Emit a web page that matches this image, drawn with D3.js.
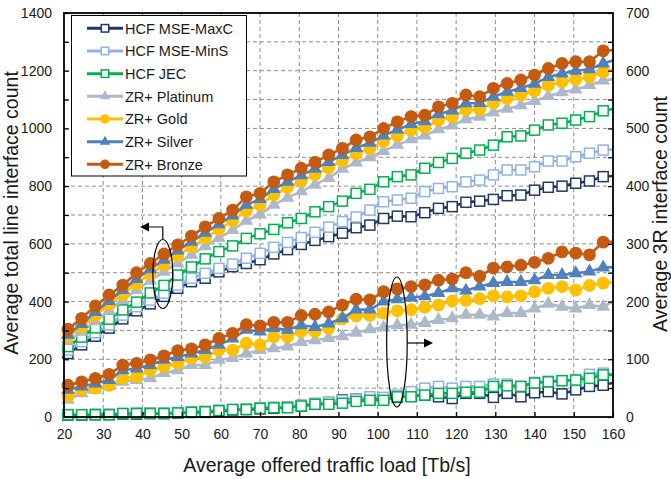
<!DOCTYPE html>
<html>
<head>
<meta charset="utf-8">
<script src="https://cdn.jsdelivr.net/npm/d3@7"></script>
<style>
  html, body { margin: 0; padding: 0; background: #fff; }
  svg { display: block; font-family: "Liberation Sans", Arial, sans-serif; }
</style>
</head>
<body>
<svg id="chart" width="671" height="479"></svg>
<script>
// ---- data -------------------------------------------------------------
// offered traffic load [Tb/s] of each simulation step
const loads = [21, 24.5, 28, 31.5, 35, 38.5, 42, 45.5, 49, 52.5, 56, 59.5, 63, 66.5, 70, 73.5, 77, 80.5, 84, 87.5,
               91, 94.5, 98, 101.5, 105, 108.5, 112, 115.5, 119, 122.5, 126, 129.5, 133, 136.5, 140, 143.5, 147, 150.5, 154, 157.5, 161];

// average total line interface count (left axis)
const totalMaxC = [220, 250, 280, 308, 340, 368, 392, 418, 446, 469, 481, 503, 521, 532, 545, 565, 580, 598, 612, 625,
                   637, 656, 665, 688, 696, 694, 708, 723, 729, 744, 748, 754, 767, 769, 786, 796, 800, 810, 818, 833, 836];
const totalMinS = [232, 261, 292, 319, 353, 382, 405, 429, 457, 481, 498, 515, 530, 550, 567, 588, 605, 622, 640, 658,
                   677, 693, 717, 746, 752, 758, 781, 792, 798, 815, 821, 839, 856, 856, 867, 887, 887, 902, 914, 925, 928];
const totalJEC = [244, 277, 309, 339, 371, 398, 430, 456, 492, 520, 548, 573, 593, 619, 635, 650, 673, 688, 711, 729,
                  748, 775, 789, 815, 833, 839, 862, 882, 896, 914, 925, 942, 971, 974, 994, 1012, 1018, 1029, 1041, 1061, 1070];
const totalPlatinum = [262, 295, 332, 368, 405, 440, 472, 503, 533, 562, 592, 620, 648, 680, 702, 735, 760, 782, 805, 828,
                       860, 882, 900, 922, 943, 962, 975, 997, 1010, 1032, 1040, 1055, 1068, 1080, 1095, 1112, 1125, 1135, 1150, 1166, 1173];
const totalGold = [278, 312, 352, 390, 425, 462, 496, 528, 560, 590, 620, 650, 680, 714, 735, 770, 795, 818, 840, 864,
                   888, 912, 930, 955, 975, 994, 1004, 1028, 1040, 1064, 1066, 1088, 1104, 1116, 1130, 1150, 1162, 1170, 1178, 1196, 1208];
const totalSilver = [285, 322, 364, 402, 440, 478, 512, 545, 577, 607, 638, 668, 698, 735, 755, 790, 815, 838, 860, 884,
                     908, 932, 950, 975, 996, 1015, 1025, 1050, 1062, 1087, 1088, 1110, 1127, 1140, 1155, 1178, 1190, 1200, 1205, 1225, 1240];
const totalBronze = [304, 342, 385, 423, 457, 500, 532, 565, 596, 627, 659, 688, 717, 763, 775, 815, 839, 862, 882, 908,
                     931, 960, 971, 1000, 1023, 1041, 1046, 1075, 1087, 1116, 1110, 1139, 1156, 1168, 1185, 1208, 1225, 1231, 1231, 1269, 1272];

// average 3R interface count (right axis)
const r3MaxC = [3, 3, 4, 4, 5, 5, 6, 6, 7, 8, 8, 10, 12, 13, 14, 15, 17, 19, 22, 25,
                30, 31, 30, 32, 34, 36, 38, 35, 32, 41, 41, 34, 41, 35, 42, 44, 40, 47, 53, 55, 61];
const r3MinS = [4, 4, 5, 5, 6, 7, 7, 7, 8, 9, 10, 12, 13, 14, 16, 17, 18, 21, 24, 26,
                29, 31, 35, 34, 38, 44, 50, 53, 50, 53, 53, 57, 57, 53, 60, 62, 63, 64, 74, 76, 72];
const r3JEC = [4, 4, 4, 4, 6, 6, 6, 6, 7, 8, 9, 11, 13, 13, 15, 16, 16, 19, 22, 22,
               24, 27, 29, 29, 35, 35, 38, 41, 41, 43, 43, 53, 54, 53, 59, 61, 63, 64, 67, 73, 73];
const r3Platinum = [30, 41, 47, 53, 61, 64, 67, 76, 81, 90, 90, 99, 102, 110, 116, 119, 122, 130, 133, 137,
                    140, 146, 152, 155, 159, 160, 163, 168, 171, 177, 177, 174, 180, 180, 188, 196, 191, 188, 194, 191, 204];
const r3Gold = [36, 47, 50, 55, 67, 70, 81, 87, 93, 102, 104, 116, 116, 128, 125, 139, 139, 148, 148, 154,
                170, 175, 176, 180, 184, 186, 190, 194, 201, 202, 205, 210, 208, 210, 217, 223, 226, 220, 228, 232, 234];
const r3Silver = [47, 53, 58, 64, 81, 84, 90, 99, 104, 110, 116, 125, 136, 151, 148, 154, 151, 159, 156, 162,
                  171, 186, 186, 200, 204, 207, 209, 215, 223, 219, 226, 232, 234, 234, 237, 246, 246, 249, 252, 259, 260];
const r3Bronze = [55, 61, 67, 74, 90, 93, 99, 106, 115, 118, 125, 136, 145, 160, 158, 164, 164, 176, 178, 182,
                  194, 204, 203, 217, 222, 226, 229, 237, 239, 250, 244, 258, 260, 263, 268, 275, 286, 284, 281, 303, 304];

// axis ticks
const xTicks = [20, 30, 40, 50, 60, 70, 80, 90, 100, 110, 120, 130, 140, 150, 160];
const yLeftTicks = [0, 200, 400, 600, 800, 1000, 1200, 1400];
const yRightTicks = [0, 100, 200, 300, 400, 500, 600, 700];
const yLeftMinor = [0, 100, 200, 300, 400, 500, 600, 700, 800, 900, 1000, 1100, 1200, 1300, 1400];

const seriesNames = ["HCF MSE-MaxC", "HCF MSE-MinS", "HCF JEC", "ZR+ Platinum", "ZR+ Gold", "ZR+ Silver", "ZR+ Bronze"];
const totals = [totalMaxC, totalMinS, totalJEC, totalPlatinum, totalGold, totalSilver, totalBronze];
const threeR = [r3MaxC, r3MinS, r3JEC, r3Platinum, r3Gold, r3Silver, r3Bronze];

// ---- styles -----------------------------------------------------------
const seriesColors = ["#203864", "#8fb4e3", "#00b050", "#adb9ca", "#ffc000", "#4f81bd", "#c55a11"];
const seriesMarkers = ["square", "square", "square", "triangle", "circle", "triangle", "circle"];

// ---- layout -----------------------------------------------------------
const W = 671, H = 479;
const plot = { left: 64, right: 613, top: 13, bottom: 417 };

const x = d3.scaleLinear().domain([20, 160]).range([plot.left, plot.right]);
const yL = d3.scaleLinear().domain([0, 1400]).range([plot.bottom, plot.top]);
const yR = d3.scaleLinear().domain([0, 700]).range([plot.bottom, plot.top]);

const svg = d3.select("#chart");
svg.append("rect").attr("width", W).attr("height", H).attr("fill", "#fff");

svg.append("defs").append("clipPath").attr("id", "plotClip")
  .append("rect")
  .attr("x", plot.left).attr("y", plot.top)
  .attr("width", plot.right - plot.left).attr("height", plot.bottom - plot.top);

// dashed grid
const grid = svg.append("g").attr("stroke", "#8c8c8c").attr("stroke-width", 1).attr("stroke-dasharray", "4,3");
grid.selectAll("line.gv").data(xTicks.slice(1, -1)).join("line")
  .attr("x1", d => x(d)).attr("x2", d => x(d))
  .attr("y1", plot.top).attr("y2", plot.bottom);
grid.selectAll("line.gh").data(yLeftMinor.slice(1, -1)).join("line")
  .attr("x1", plot.left).attr("x2", plot.right)
  .attr("y1", d => yL(d)).attr("y2", d => yL(d));

// ---- series -----------------------------------------------------------
function drawMarker(g, type, color, cx, cy, s) {
  if (type === "square") {
    g.append("rect").attr("x", cx - 5 * s).attr("y", cy - 5 * s)
      .attr("width", 10 * s).attr("height", 10 * s)
      .attr("fill", "#fff").attr("stroke", color).attr("stroke-width", 1.5);
  } else if (type === "circle") {
    g.append("circle").attr("cx", cx).attr("cy", cy).attr("r", 6.4 * s).attr("fill", color);
  } else {
    g.append("path").attr("d", d3.symbol().type(d3.symbolTriangle).size(82 * s * s)())
      .attr("transform", `translate(${cx},${cy})`).attr("fill", color);
  }
}

const seriesLayer = svg.append("g");
seriesNames.forEach((name, si) => {
  const color = seriesColors[si];
  [[totals[si], yL], [threeR[si], yR]].forEach(([vals, scale]) => {
    const g = seriesLayer.append("g");
    const line = d3.line().x((d, i) => x(loads[i])).y(d => scale(d));
    g.append("path").attr("d", line(vals))
      .attr("fill", "none").attr("stroke", color).attr("stroke-width", 2.6)
      .attr("stroke-linejoin", "round")
      .attr("clip-path", "url(#plotClip)");
    vals.forEach((v, i) => {
      if (loads[i] <= 160) drawMarker(g, seriesMarkers[si], color, x(loads[i]), scale(v), 1);
    });
  });
});

// ---- frame and axes ---------------------------------------------------
svg.append("rect")
  .attr("x", plot.left).attr("y", plot.top)
  .attr("width", plot.right - plot.left).attr("height", plot.bottom - plot.top)
  .attr("fill", "none").attr("stroke", "#000").attr("stroke-width", 1.8);

function styleAxis(g) {
  g.select(".domain").remove();
  g.selectAll("text").attr("font-size", 14).attr("fill", "#1a1a1a")
    .attr("font-family", '"Liberation Sans", Arial, sans-serif');
  g.selectAll("line").attr("stroke", "#000").attr("stroke-width", 1.2);
}
const plain = d3.format("d");

svg.append("g").attr("transform", `translate(0,${plot.bottom})`)
  .call(d3.axisBottom(x).tickValues(xTicks).tickFormat(plain).tickSize(0).tickPadding(12)).call(styleAxis);
svg.append("g").attr("transform", `translate(0,${plot.bottom})`)
  .call(d3.axisTop(x).tickValues(xTicks).tickSize(5).tickFormat("")).call(styleAxis);

svg.append("g").attr("transform", `translate(${plot.left},0)`)
  .call(d3.axisLeft(yL).tickValues(yLeftTicks).tickFormat(plain).tickSize(0).tickPadding(12)).call(styleAxis);
svg.append("g").attr("transform", `translate(${plot.left},0)`)
  .call(d3.axisRight(yL).tickValues(yLeftMinor).tickSize(5).tickFormat("")).call(styleAxis);

svg.append("g").attr("transform", `translate(${plot.right},0)`)
  .call(d3.axisRight(yR).tickValues(yRightTicks).tickFormat(plain).tickSize(0).tickPadding(13)).call(styleAxis);
svg.append("g").attr("transform", `translate(${plot.right},0)`)
  .call(d3.axisLeft(yR).tickValues(yLeftMinor.map(v => v / 2)).tickSize(5).tickFormat("")).call(styleAxis);

// axis titles
const titleFont = 19.5;
svg.append("text").attr("x", 327).attr("y", 471.5).attr("text-anchor", "middle")
  .attr("font-size", titleFont).attr("fill", "#1a1a1a").text("Average offered traffic load [Tb/s]");
svg.append("text").attr("transform", "translate(17.5,213) rotate(-90)").attr("text-anchor", "middle")
  .attr("font-size", titleFont).attr("fill", "#1a1a1a").text("Average total line interface count");
svg.append("text").attr("transform", "translate(666.5,214) rotate(-90)").attr("text-anchor", "middle")
  .attr("font-size", titleFont).attr("fill", "#1a1a1a").text("Average 3R interface count");

// ---- annotations: ellipses with arrows toward the matching axis -------
const ann = svg.append("g").attr("fill", "none").attr("stroke", "#000").attr("stroke-width", 1.2);
ann.append("ellipse").attr("cx", x(45.2)).attr("cy", 274).attr("rx", 10).attr("ry", 34.5);
ann.append("polyline").attr("points", `${x(45.2)},239.5 ${x(45.2)},227 147,227`);
svg.append("path").attr("d", "M140,227 L149,222.5 L149,231.5 Z").attr("fill", "#000");

ann.append("ellipse").attr("cx", x(104.9)).attr("cy", 342).attr("rx", 10.3).attr("ry", 65);
ann.append("line").attr("x1", x(104.9) + 10.3).attr("x2", 424).attr("y1", 343).attr("y2", 343);
svg.append("path").attr("d", "M433,343 L424,338.5 L424,347.5 Z").attr("fill", "#000");

// ---- legend -----------------------------------------------------------
const legend = svg.append("g");
legend.append("rect").attr("x", 71.5).attr("y", 15.5).attr("width", 175).attr("height", 160.5)
  .attr("fill", "#fff").attr("stroke", "#000").attr("stroke-width", 1);
seriesNames.forEach((name, si) => {
  const cy = 28.3 + si * 22.67;
  const row = legend.append("g");
  row.append("line").attr("x1", 87).attr("x2", 123).attr("y1", cy).attr("y2", cy)
    .attr("stroke", seriesColors[si]).attr("stroke-width", 3);
  drawMarker(row, seriesMarkers[si], seriesColors[si], 105, cy, 0.75);
  row.append("text").attr("x", 125).attr("y", cy + 5.2).attr("font-size", 14.5)
    .attr("fill", "#1a1a1a").text(name);
});
</script>
</body>
</html>
